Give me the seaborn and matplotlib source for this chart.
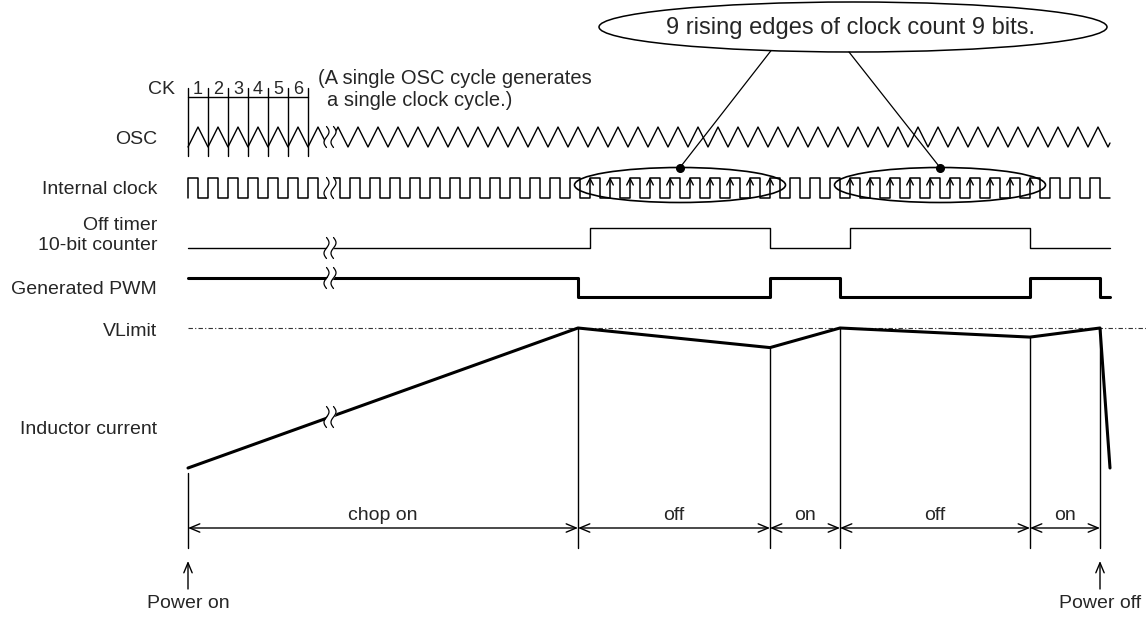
import numpy as np
import pandas as pd
import matplotlib
matplotlib.use("Agg")
import matplotlib.pyplot as plt
import seaborn as sns
from matplotlib.patches import Ellipse

# --- data (x in time units = pixels) ---
row_labels = ["OSC", "Internal clock", "Off timer\n10-bit counter", "Generated PWM", "VLimit", "Inductor current"]
ck_numbers = ["1", "2", "3", "4", "5", "6"]
ck_note = ["(A single OSC cycle generates", "a single clock cycle.)"]
callout_text = "9 rising edges of clock count 9 bits."

osc_period = 20
t_start, t_break, t_end = 188, 330, 1110

pwm_edges = [188, 578, 770, 840, 1030, 1100, 1110]
pwm_levels = [1, 0, 1, 0, 1, 0]
counter_edges = [188, 590, 770, 850, 1030, 1110]
counter_levels = [0, 1, 0, 1, 0]
current_t = [188, 578, 770, 840, 1030, 1100, 1110]
current_val = [0.0, 1.0, 0.86, 1.0, 0.935, 1.0, 0.0]
counted_edges_1 = [590, 610, 630, 650, 670, 690, 710, 730, 750, 770]
counted_edges_2 = [850, 870, 890, 910, 930, 950, 970, 990, 1010, 1030]

phase_edges = [188, 578, 770, 840, 1030, 1100]
phase_names = ["chop on", "off", "on", "off", "on"]

# --- layout (pixel rows) ---
Y_OSC = (147, 127)
Y_CLK = (198, 178)
Y_CNT = (248, 228)
Y_PWM = (297, 278)
Y_VLIM = 328
Y_CUR0 = 468
Y_DIM = 528

sns.set_theme(style="white")
plt.rcParams["font.family"] = ["Liberation Sans", "DejaVu Sans"]
FS = 14

fig = plt.figure(figsize=(11.46, 6.17), dpi=100)
ax = fig.add_axes([0, 0, 1, 1])


def trace(x, y, lw=1.0, z=2):
    sns.lineplot(x=list(x), y=list(y), ax=ax, color="black", lw=lw,
                 sort=False, estimator=None, zorder=z)


def steps(edges, levels, ylo, yhi):
    xs, ys = [], []
    for i, lev in enumerate(levels):
        y = yhi if lev else ylo
        xs += [edges[i], edges[i + 1]]
        ys += [y, y]
    return xs, ys


def clock(x0, x1, phase):
    lo, hi = Y_CLK
    half = osc_period / 2
    first = phase - osc_period * np.ceil((phase - x0) / osc_period + 1)
    cuts = [c for c in np.arange(first, x1 + osc_period, half) if x0 < c < x1]
    lev = ((x0 - phase) % osc_period) < half
    xs, ys = [x0], [hi if lev else lo]
    if x0 == t_start:
        xs, ys = [x0, x0], [lo, hi]
    for c in cuts:
        xs += [c, c]
        ys += [hi if lev else lo, lo if lev else hi]
        lev = not lev
    xs.append(x1)
    ys.append(hi if lev else lo)
    return xs, ys


def osc(x0, x1):
    lo, hi = Y_OSC
    def yv(x):
        f = ((x - t_start) % osc_period) / osc_period
        return lo - (lo - hi) * (1 - abs(2 * f - 1))
    verts = [v for v in np.arange(t_start, x1 + 1, osc_period / 2) if x0 < v < x1]
    xs = [x0] + verts + [x1]
    return xs, [yv(x) for x in xs]


def squiggle(xc, yc, h=21):
    t = np.linspace(0, 1, 40)
    wob = 2.5 * np.sin(2 * np.pi * t)
    yy = yc - h / 2 + h * t
    ax.fill_betweenx(yy, xc - 3.5 + wob, xc + 3.5 + wob, color="white", zorder=5, lw=0)
    for dx in (-3.5, 3.5):
        ax.plot(xc + dx + wob, yy, color="black", lw=0.9, zorder=6)


# OSC
trace(*osc(t_start, t_break - 4))
trace(*osc(t_break + 4, t_end))
squiggle(t_break, 137)

# Internal clock
trace(*clock(t_start, t_break - 4, t_start), lw=1.1)
trace(*clock(t_break + 4, t_end, counted_edges_1[0]), lw=1.1)
squiggle(t_break, 188)

# counted edge arrowheads and ellipses
for grp in (counted_edges_1, counted_edges_2):
    for x in grp:
        ax.plot([x - 3.3, x, x + 3.3], [Y_CLK[1] + 7, Y_CLK[1] + 0.5, Y_CLK[1] + 7],
                color="black", lw=1.0, zorder=4)
    cx = np.mean(grp)
    ax.add_patch(Ellipse((cx, 185), 211, 35, fill=False, ec="black", lw=1.2, zorder=4))
    ax.plot(cx, 167.5, "o", color="black", ms=5.5, zorder=7)

# big callout
big_c, big_w, big_h = (853, 27), 508, 50
ax.add_patch(Ellipse(big_c, big_w, big_h, fill=False, ec="black", lw=1.1))
ax.text(851, 28, callout_text, ha="center", va="center", fontsize=17)
for grp, ax_x in ((counted_edges_1, 771), (counted_edges_2, 849)):
    ey = big_c[1] + big_h / 2 * np.sqrt(1 - ((ax_x - big_c[0]) / (big_w / 2)) ** 2)
    ax.plot([ax_x, np.mean(grp)], [ey, 167.5], color="black", lw=0.9)

# CK ruler
ck_ticks = [t_start + osc_period * i for i in range(len(ck_numbers) + 1)]
ax.plot([ck_ticks[0], ck_ticks[-1]], [97, 97], color="black", lw=1.0)
for x in ck_ticks:
    ax.plot([x, x], [88, 156], color="black", lw=1.0)
for i, n in enumerate(ck_numbers):
    ax.text(ck_ticks[i] + osc_period / 2, 89, n, ha="center", va="center", fontsize=13)
ax.text(318, 78, ck_note[0], ha="left", va="center", fontsize=14.5)
ax.text(327, 100, ck_note[1], ha="left", va="center", fontsize=14.5)

# Off timer counter
trace(*steps(counter_edges, counter_levels, *Y_CNT), lw=1.0)
squiggle(t_break, Y_CNT[0])

# PWM
trace(*steps(pwm_edges, pwm_levels, *Y_PWM), lw=2.2)
squiggle(t_break, Y_PWM[1])

# VLimit
ax.plot([t_start, 1146], [Y_VLIM, Y_VLIM], color="#333333", lw=0.8,
        linestyle=(0, (4, 2, 1, 2)))

# Inductor current
cur_y = [Y_CUR0 - v * (Y_CUR0 - Y_VLIM) for v in current_val]
trace(current_t, cur_y, lw=2.2, z=3)
yb = np.interp(t_break, current_t, cur_y)
squiggle(t_break, yb)

# phase boundaries and dimension arrows
for i, x in enumerate(phase_edges):
    ytop = np.interp(x, current_t, cur_y) + (5 if i == 0 else 0)
    ax.plot([x, x], [ytop, 548], color="black", lw=1.0)
for i, name in enumerate(phase_names):
    a, b = phase_edges[i], phase_edges[i + 1]
    ax.annotate("", xy=(a, Y_DIM), xytext=(b, Y_DIM),
                arrowprops=dict(arrowstyle="<->,head_length=0.6,head_width=0.25",
                                color="black", lw=1.0, shrinkA=0, shrinkB=0))
    ax.text((a + b) / 2, 515, name, ha="center", va="center", fontsize=FS)

# power on / off
for x, lab in ((phase_edges[0], "Power on"), (phase_edges[-1], "Power off")):
    ax.annotate("", xy=(x, 561), xytext=(x, 589),
                arrowprops=dict(arrowstyle="->,head_length=0.6,head_width=0.25",
                                color="black", lw=1.0, shrinkA=0, shrinkB=0))
    ax.text(x, 604, lab, ha="center", va="center", fontsize=FS)

# row labels
ax.text(175, 89, "CK", ha="right", va="center", fontsize=FS)
label_y = [139, 189, 235.5, 290, 331, 430]
for lab, y in zip(row_labels, label_y):
    ax.text(157, y, lab, ha="right", va="center", fontsize=FS,
            multialignment="right", linespacing=1.2)

ax.set_xlim(0, 1146)
ax.set_ylim(617, 0)
ax.axis("off")
fig.savefig("out.png", dpi=100)
